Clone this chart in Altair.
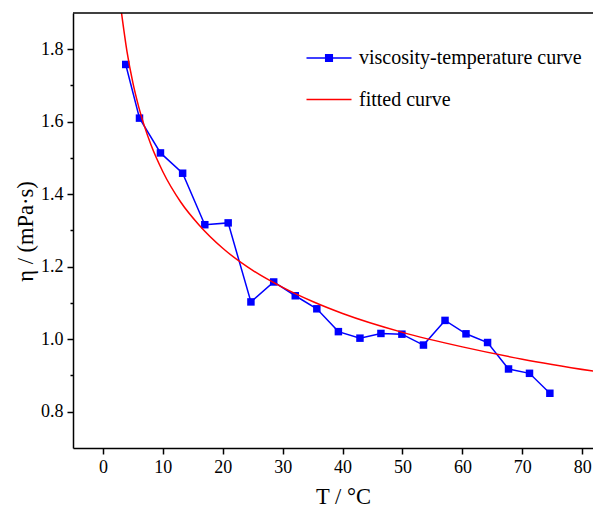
import altair as alt
import pandas as pd

temps = [3.8, 6.1, 9.6, 13.3, 17.0, 20.9, 24.7, 28.5, 32.1, 35.7, 39.3,
         42.9, 46.4, 49.9, 53.5, 57.1, 60.6, 64.2, 67.7, 71.2, 74.6]
visc = [1.758, 1.610, 1.514, 1.458, 1.316, 1.321, 1.103, 1.158, 1.120, 1.084, 1.021,
        1.003, 1.016, 1.014, 0.984, 1.052, 1.015, 0.991, 0.918, 0.906, 0.851]

# fitted curve samples
fit_t = [3.1, 4, 5, 6, 8, 10, 13, 16, 20, 25, 30, 35, 40, 50, 60, 70, 83]
fit_v = [1.900, 1.795, 1.707, 1.639, 1.537, 1.462, 1.378, 1.316, 1.251, 1.190,
         1.143, 1.104, 1.071, 1.019, 0.979, 0.945, 0.909]

series_names = ["viscosity-temperature curve", "fitted curve"]
series_colors = ["#0000ff", "#ff0000"]
legend_symbols = ["M-1.5,0H1.5M-0.22,-0.22H0.22V0.22H-0.22Z", "M-1.5,0H1.5"]

x_ticks = [0, 5, 10, 15, 20, 25, 30, 35, 40, 45, 50, 55, 60, 65, 70, 75, 80]
y_ticks = [0.8, 0.9, 1.0, 1.1, 1.2, 1.3, 1.4, 1.5, 1.6, 1.7, 1.8]

meas = pd.DataFrame({"T": temps, "eta": visc})
fit = pd.DataFrame({"T": fit_t, "eta": fit_v})
leg = pd.DataFrame({"series": series_names})
frame = pd.DataFrame({"edge": ["top"]})

FONT = "Liberation Serif"

x_enc = alt.X("T:Q", scale=alt.Scale(domain=[-5, 81.8], nice=False, zero=False),
              axis=alt.Axis(values=x_ticks, title="T / °C", format="d",
                            tickSize={"condition": {"test": "datum.value % 10 === 0", "value": 6}, "value": 3},
                            labelExpr="datum.value % 10 === 0 ? datum.label : ''",
                            labelPadding=4, titleBaseline="alphabetic", titleY=55, titleX=270))
y_enc = alt.Y("eta:Q", scale=alt.Scale(domain=[0.7, 1.9], nice=False, zero=False),
              axis=alt.Axis(values=y_ticks, title="η / (mPa·s)", format=".1f",
                            tickSize={"condition": {"test": "abs(round(datum.value*10)) % 2 === 0", "value": 6}, "value": 3},
                            labelExpr="abs(round(datum.value*10)) % 2 === 0 ? datum.label : ''",
                            labelPadding=4, titleBaseline="alphabetic", titleX=-41, titleY=218))

line = alt.Chart(meas).mark_line(color="#0000ff", strokeWidth=1.5, clip=True).encode(x=x_enc, y=y_enc)
pts = alt.Chart(meas).mark_square(color="#0000ff", size=56, opacity=1, clip=True).encode(x="T:Q", y="eta:Q")
fitline = alt.Chart(fit).mark_line(color="#ff0000", strokeWidth=1.5, interpolate="monotone", clip=True).encode(
    x="T:Q", y="eta:Q")
top_border = alt.Chart(frame).mark_rule(color="black", strokeWidth=1.5).encode(y=alt.value(0))

lg = alt.Legend(orient="none", legendX=240, legendY=29, title=None, labelFont=FONT, labelFontSize=20,
                labelColor="black", labelOffset=14, symbolSize=900, symbolStrokeWidth=1.5,
                rowPadding=15.5, padding=0, symbolOpacity=1, labelLimit=400)
legend_layer = alt.Chart(leg).mark_point(opacity=0, filled=True).encode(
    fill=alt.Fill("series:N", scale=alt.Scale(domain=series_names, range=series_colors), legend=lg),
    stroke=alt.Stroke("series:N", scale=alt.Scale(domain=series_names, range=series_colors), legend=lg),
    shape=alt.Shape("series:N", scale=alt.Scale(domain=series_names, range=legend_symbols), legend=lg),
)

chart = alt.layer(line, pts, fitline, top_border, legend_layer).properties(
    width=520, height=435,
    autosize=alt.AutoSizeParams(type="none"),
    padding={"left": 65, "top": 5, "right": 0, "bottom": 62},
).configure_view(stroke=None).configure_axis(
    grid=False, domainColor="black", domainWidth=1.5, tickColor="black", tickWidth=1.5,
    labelFont=FONT, labelFontSize=18, labelColor="black",
    titleFont=FONT, titleFontSize=22.5, titleFontWeight="normal", titleColor="black",
)

chart.save("out.html", embed_options={"renderer": "svg", "actions": False})
